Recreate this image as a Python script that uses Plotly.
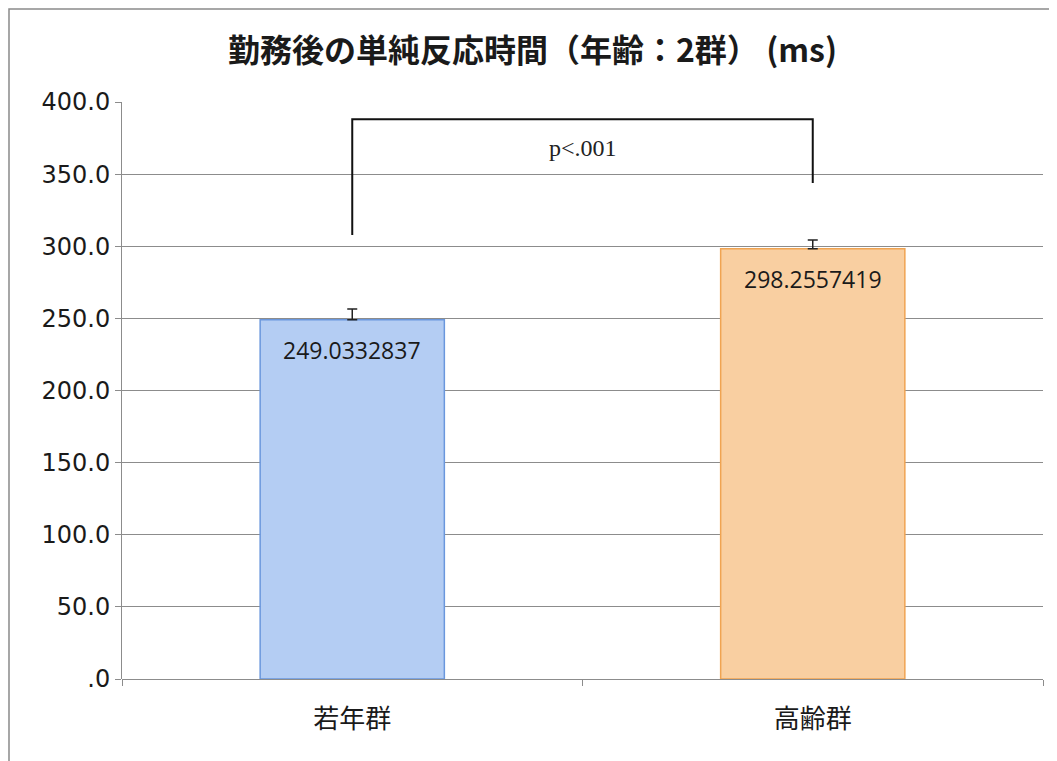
import plotly.graph_objects as go

# ---- data ----
categories = ["若年群", "高齢群"]
means = [249.0332837, 298.2557419]
errors = [7.5, 6.0]
label_texts = ["249.0332837", "298.2557419"]
bar_fill = ["#b4cdf3", "#f9cfa1"]
bar_line = ["#6a97dd", "#f0a452"]
y_tickvals = [0, 50, 100, 150, 200, 250, 300, 350, 400]
y_ticktext = [".0", "50.0", "100.0", "150.0", "200.0", "250.0", "300.0", "350.0", "400.0"]
bracket_y = [307.8, 388.0, 388.0, 343.8]
p_text = "p<.001"
p_y = 368.0
title_text = "勤務後の単純反応時間（年齢：2群） (ms)"

fig = go.Figure()

fig.add_trace(go.Bar(
    x=categories,
    y=means,
    width=0.4,
    marker=dict(color=bar_fill, line=dict(color=bar_line, width=1.5)),
    error_y=dict(type="data", symmetric=False, array=errors,
                 arrayminus=[0 for _ in errors], visible=True,
                 color="#222222", thickness=1.5, width=5),
    showlegend=False,
    hoverinfo="skip",
))

# significance bracket
fig.add_trace(go.Scatter(
    x=[categories[0], categories[0], categories[1], categories[1]],
    y=bracket_y,
    mode="lines",
    line=dict(color="#111111", width=2),
    showlegend=False,
    hoverinfo="skip",
))

fig.add_annotation(
    x=0.5, y=p_y, xref="x", yref="y", text=p_text, showarrow=False,
    font=dict(family="Liberation Serif", size=24, color="#222222"),
)

# data labels
for c, v, t in zip(categories, means, label_texts):
    fig.add_annotation(
        x=c, y=v, xref="x", yref="y", text=t, showarrow=False,
        yanchor="top", yshift=-12,
        font=dict(family="Open Sans", size=23, color="#1a1a1a"),
    )

# chart-area border (top and left edges visible)
fig.add_shape(type="rect", xref="paper", yref="paper",
              x0=-0.1227, x1=1.1, y0=-0.3, y1=1.1612,
              line=dict(color="#8a8a8a", width=1.5), fillcolor="rgba(0,0,0,0)", layer="below")

fig.update_layout(
    width=1049, height=753,
    margin=dict(l=114, r=14, t=94, b=82),
    paper_bgcolor="white",
    plot_bgcolor="white",
    title=dict(text="<b>" + title_text + "</b>", x=0.5, xanchor="center",
               y=0.943, yanchor="middle",
               font=dict(family="Noto Sans CJK JP", size=32, color="#1a1a1a")),
    xaxis=dict(
        type="category",
        range=[-0.5, 1.5],
        showline=False,
        ticks="outside", tickson="boundaries", ticklen=6, tickcolor="#8c8c8c",
        ticklabelstandoff=22,
        showgrid=False,
        tickfont=dict(family="Noto Sans CJK JP", size=26, color="#1a1a1a"),
    ),
    yaxis=dict(
        range=[0, 400],
        tickvals=y_tickvals, ticktext=y_ticktext,
        showline=True, linecolor="#8c8c8c", linewidth=1,
        ticks="outside", ticklen=6, tickcolor="#8c8c8c",
        showgrid=True, gridcolor="#8c8c8c", gridwidth=1,
        zeroline=True, zerolinecolor="#8c8c8c", zerolinewidth=1,
        tickfont=dict(family="DejaVu Sans", size=24, color="#1a1a1a"),
    ),
)

fig.write_html("out.html")
